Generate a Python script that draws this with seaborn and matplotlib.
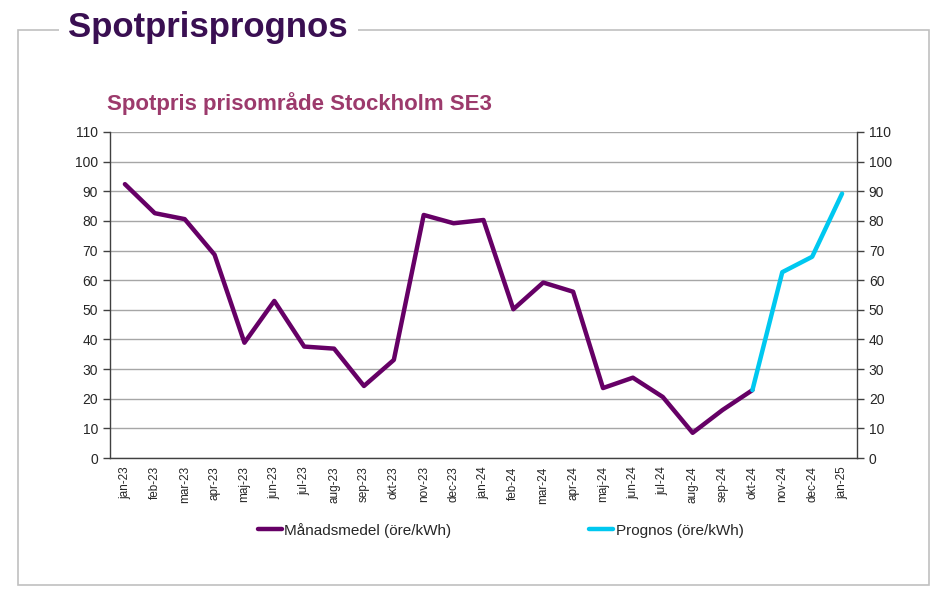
import matplotlib

matplotlib.use("Agg")

import matplotlib.pyplot as plt  # noqa: E402
import numpy as np  # noqa: E402
import pandas as pd  # noqa: E402
import seaborn as sns  # noqa: E402
from matplotlib.patches import Rectangle  # noqa: E402

months = [
    "jan-23", "feb-23", "mar-23", "apr-23", "maj-23", "jun-23", "jul-23",
    "aug-23", "sep-23", "okt-23", "nov-23", "dec-23", "jan-24", "feb-24",
    "mar-24", "apr-24", "maj-24", "jun-24", "jul-24", "aug-24", "sep-24",
    "okt-24", "nov-24", "dec-24", "jan-25",
]
manadsmedel = [
    92.4, 82.6, 80.6, 68.6, 38.9, 53.0, 37.6, 36.9, 24.3, 33.1, 82.0, 79.2,
    80.3, 50.2, 59.2, 56.1, 23.6, 27.1, 20.6, 8.5, 16.2, 22.9,
]
prognos = [22.9, 62.7, 67.9, 89.2]  # okt-24 .. jan-25

PURPLE = "#660066"
CYAN = "#00c8f0"

sns.set_style("white")
plt.rcParams["font.family"] = ["Liberation Sans", "DejaVu Sans"]

df_hist = pd.DataFrame({"pos": np.arange(len(manadsmedel)), "pris": manadsmedel})
start = len(manadsmedel) - 1
df_prog = pd.DataFrame({"pos": np.arange(start, start + len(prognos)), "pris": prognos})

fig = plt.figure(figsize=(9.48, 6.11), dpi=100)
ax = fig.add_axes([0.116, 0.2504, 0.788, 0.5336])

sns.lineplot(data=df_hist, x="pos", y="pris", color=PURPLE, linewidth=2.6,
             ax=ax, label="Månadsmedel (öre/kWh)", legend=False)
sns.lineplot(data=df_prog, x="pos", y="pris", color=CYAN, linewidth=2.6,
             ax=ax, label="Prognos (öre/kWh)", legend=False)

ax.set_xlim(-0.5, len(months) - 0.5)
ax.set_ylim(0, 110)
ax.set_yticks(range(0, 111, 10))
ax.set_xticks(range(len(months)))
ax.set_xticklabels(months, rotation=90, fontsize=8.5)
ax.set_xticks(np.arange(-0.5, len(months), 1), minor=True)
ax.tick_params(axis="x", which="major", length=0, pad=6)
ax.tick_params(axis="x", which="minor", length=5, width=1, color="#404040", direction="out")
ax.tick_params(axis="y", length=5, width=1, color="#404040", direction="out", labelsize=10)
ax.set_xlabel("")
ax.set_ylabel("")
ax.yaxis.grid(True, color="#a6a6a6", linewidth=1)
ax.set_axisbelow(True)
for side in ("top", "right"):
    ax.spines[side].set_visible(False)
for side in ("left", "bottom"):
    ax.spines[side].set_color("#404040")
    ax.spines[side].set_linewidth(1)

ax2 = ax.twinx()
ax2.set_ylim(0, 110)
ax2.set_yticks(range(0, 111, 10))
ax2.tick_params(axis="y", length=5, width=1, color="#404040", direction="out", labelsize=10)
for side in ("top", "left", "bottom"):
    ax2.spines[side].set_visible(False)
ax2.spines["right"].set_color("#404040")
ax2.spines["right"].set_linewidth(1)

handles, labels = ax.get_legend_handles_labels()
for h in handles:
    h.set_linewidth(3.2)
fig.legend(handles, labels, loc="center", bbox_to_anchor=(0.528, 0.132), ncol=2,
           frameon=False, fontsize=11, handlelength=1.6, handletextpad=0.15,
           columnspacing=9.0)

# outer frame with title box
fig.patches.append(Rectangle((0.019, 0.0425), 0.961, 0.9085, transform=fig.transFigure,
                             fill=False, edgecolor="#c0c0c0", linewidth=1.2))
fig.text(0.072, 0.955, "Spotprisprognos", fontsize=25, fontweight="bold",
         color="#3a0f52", ha="left", va="center",
         bbox=dict(facecolor="white", edgecolor="none", pad=7))
fig.text(0.113, 0.83, "Spotpris prisområde Stockholm SE3", fontsize=16,
         fontweight="bold", color="#9c3a6c", ha="left", va="center")

fig.savefig("out.png", dpi=100)
plt.close(fig)
